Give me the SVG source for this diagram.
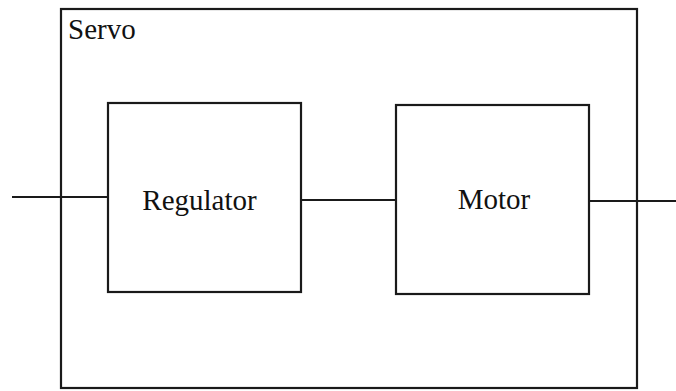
<svg xmlns="http://www.w3.org/2000/svg" width="676" height="391" viewBox="0 0 676 391">
<style>
.box{fill:none;stroke:#1a1a1a;stroke-width:2.2}
.wire{fill:none;stroke:#1a1a1a;stroke-width:2}
.lbl{font-family:"Liberation Serif",serif;font-size:29px;fill:#111}
</style>
<rect width="676" height="391" fill="#fff"/>
<g id="servo">
<rect class="box" x="61" y="9" width="576" height="379"/>
<text class="lbl" x="68" y="39">Servo</text>
</g>
<g id="regulator">
<rect class="box" x="108" y="103" width="193" height="189"/>
<text class="lbl" x="199.5" y="210" text-anchor="middle">Regulator</text>
</g>
<g id="motor">
<rect class="box" x="396" y="105" width="193" height="189"/>
<text class="lbl" x="494" y="209" text-anchor="middle">Motor</text>
</g>
<g id="connectors">
<line class="wire" x1="12" y1="197" x2="108" y2="197"/>
<line class="wire" x1="301" y1="200" x2="396" y2="200"/>
<line class="wire" x1="589" y1="201" x2="676" y2="201"/>
</g>
</svg>
